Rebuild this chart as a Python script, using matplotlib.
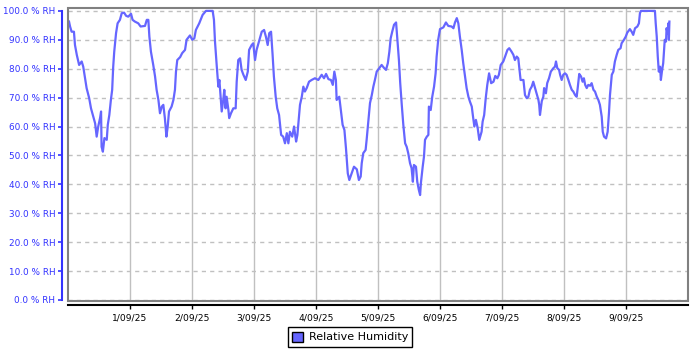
import datetime as dt
import matplotlib
matplotlib.use("Agg")
import matplotlib.pyplot as plt
import matplotlib.dates as mdates
from matplotlib.patches import Rectangle, Patch
from matplotlib.ticker import FuncFormatter

# hours since 31/08/2025 00:00 and relative humidity (%)
hours = [0.4, 0.8, 1.4, 2.3, 2.7, 3.4, 4.3, 5.3, 5.9, 6.6, 7.2, 8.2, 8.9, 9.8, 10.5, 11.1,
         11.7, 12.4, 12.8, 13.0, 13.5, 14.1, 15.0, 15.4, 16.0, 16.6, 17.1, 17.5, 17.9, 18.6,
         19.2, 20.1, 20.8, 21.7, 22.5, 23.3, 24.4, 25.0, 25.9, 27.2, 28.1, 29.8, 30.5, 31.1,
         31.5, 32.1, 33.0, 33.7, 34.3, 35.0, 35.6, 36.3, 36.9, 37.5, 38.1, 38.6, 39.1, 40.1,
         40.8, 41.4, 41.8, 42.3, 43.4, 44.2, 45.3, 45.9, 47.2, 48.1, 48.9, 49.5, 50.8, 52.1,
         53.4, 56.0, 56.5, 56.9, 57.6, 58.2, 58.6, 59.1, 59.5, 60.1, 60.5, 61.0, 61.4, 62.1,
         62.4, 63.1, 64.0, 64.9, 65.3, 65.9, 66.6, 67.2, 67.9, 68.8, 69.6, 70.1, 71.1, 71.7,
         72.4, 73.0, 74.1, 75.0, 75.9, 76.6, 77.3, 77.9, 78.6, 79.2, 79.7, 80.4, 81.0, 81.7,
         82.1, 82.5, 83.3, 84.0, 84.7, 85.3, 85.9, 86.8, 87.5, 88.3, 88.8, 89.4, 89.8, 90.5,
         91.1, 91.7, 92.4, 93.3, 94.3, 95.6, 96.9, 98.2, 99.1, 99.9, 100.8, 101.8, 102.5,
         103.1, 103.7, 104.0, 105.0, 105.6, 106.3, 107.0, 107.6, 108.3, 108.9, 109.8, 110.7,
         111.8, 112.6, 113.3, 113.7, 114.3, 115.2, 115.6, 116.2, 116.9, 117.6, 118.2, 118.8,
         119.5, 120.5, 121.4, 122.4, 123.1, 123.8, 124.4, 124.9, 125.5, 126.2, 127.0, 127.5,
         128.1, 128.6, 129.2, 129.8, 130.5, 131.1, 131.7, 132.4, 133.0, 133.5, 133.9, 134.7,
         135.2, 135.8, 136.3, 136.6, 137.3, 137.8, 138.2, 138.9, 139.5, 139.7, 140.4, 141.0,
         141.7, 142.3, 142.7, 143.3, 144.0, 145.3, 146.3, 147.2, 148.5, 149.2, 149.8, 150.5,
         151.1, 151.7, 152.4, 153.0, 153.7, 154.3, 155.0, 155.6, 156.3, 156.7, 157.3, 157.9,
         158.6, 159.2, 160.1, 160.5, 161.1, 161.7, 162.3, 163.0, 163.8, 164.7, 165.4, 166.2,
         166.8, 167.5, 168.5, 169.2, 170.1, 170.8, 171.7, 172.4, 173.0, 173.7, 174.3, 174.7,
         175.2, 176.3, 176.9, 177.6, 178.2, 178.8, 179.5, 180.1, 180.8, 181.4, 182.1, 182.4,
         182.7, 183.4, 184.0, 184.3, 185.0, 185.5, 186.2, 186.9, 187.9, 188.5, 188.9, 189.4,
         190.1, 190.5, 191.1, 191.7, 192.4, 193.0, 193.7, 194.3, 195.0, 195.6, 196.3, 196.9,
         197.3, 197.9, 198.6, 199.2, 199.7, 200.2, 200.8, 201.4, 202.1, 202.7, 203.4, 204.0,
         204.7, 205.3, 205.9, 206.6, 207.0, 207.5, 208.3, 208.9, 209.4, 209.8, 210.5, 211.1,
         211.7, 212.4, 213.0, 213.9, 214.3, 215.2, 215.9, 216.5, 217.5, 218.2, 218.8, 219.5,
         220.4, 221.0, 221.4, 221.8, 227.2, 227.5, 227.9, 228.3, 228.7, 229.2, 229.5, 229.9,
         230.4, 231.0, 231.5, 231.7, 232.1, 232.4, 232.6, 232.8]
rh = [96.3, 94.6, 92.8, 92.8, 88.2, 84.8, 81.3, 82.5, 80.7, 76.7, 73.3, 69.8, 66.3, 63.4, 61.1, 56.5,
      60.0, 62.9, 65.2, 53.0, 51.3, 56.0, 55.4, 60.6, 64.0, 69.2, 72.7, 80.7, 85.9, 92.3,
      95.7, 96.9, 99.2, 99.4, 98.3, 98.0, 99.0, 96.9, 96.3, 95.7, 94.6, 94.8, 96.9, 96.9,
      91.1, 85.9, 81.3, 77.3, 72.7, 69.2, 64.6, 66.9, 67.5, 62.9, 56.5, 60.0, 65.2, 66.9,
      69.2, 72.7, 79.0, 83.0, 84.0, 85.4, 86.5, 90.0, 91.5, 90.0, 90.5, 93.4, 95.7, 98.6,
      100.0, 100.0, 96.9, 89.4, 80.7, 73.8, 76.1, 70.3, 65.2, 69.2, 72.7, 66.3, 70.3, 65.7,
      62.9, 64.6, 66.3, 66.3, 75.5, 83.0, 83.6, 79.6, 77.9, 76.1, 79.0, 86.5, 88.2, 88.8,
      83.0, 86.5, 90.0, 92.8, 93.4, 91.1, 88.2, 92.3, 92.8, 84.8, 77.3, 70.3, 66.3, 64.0,
      60.6, 57.1, 56.5, 54.2, 57.7, 54.2, 58.2, 56.5, 60.0, 54.8, 57.1, 63.4, 67.5, 70.3,
      73.8, 72.1, 73.3, 75.5, 76.1, 76.7, 76.1, 77.9, 76.7, 78.2, 76.4, 76.1, 74.4,
      79.0, 76.1, 69.2, 70.3, 65.7, 60.6, 58.8, 52.5, 43.8, 41.5, 43.8, 46.1,
      45.2, 41.5, 42.7, 47.3, 50.8, 51.9, 55.4, 61.1, 68.1, 70.9, 73.8, 76.1,
      79.0, 80.2, 81.3, 80.2, 79.6, 81.9, 85.9, 90.5, 92.8, 95.2, 96.0, 90.0,
      83.0, 75.0, 67.5, 60.6, 54.2, 53.0, 50.8, 47.3, 45.6, 40.9, 46.7, 46.1,
      40.9, 38.1, 36.3, 40.4, 46.1, 49.6, 55.4, 56.5, 57.1, 66.9, 65.7, 70.3,
      73.8, 78.4, 84.2, 90.0, 93.7, 94.3, 96.0, 94.8, 94.6, 94.0, 96.0, 97.5,
      95.7, 91.1, 86.5, 81.9, 77.3, 73.3, 70.3, 68.6, 66.9, 64.0, 60.0, 62.3,
      59.4, 55.4, 58.2, 61.7, 64.0, 69.8, 74.4, 78.4, 75.0, 75.5, 77.5, 76.7,
      77.9, 81.3, 82.5, 84.2, 86.5, 87.1, 85.9, 84.8, 83.0, 84.2, 83.6, 80.2,
      76.1, 76.1, 70.9, 69.8, 70.3, 72.7, 73.8, 75.5, 73.3, 71.5, 69.2, 67.5,
      64.0, 68.8, 70.3, 73.3, 71.5, 75.0, 76.7, 79.0, 80.2, 80.7, 82.5, 80.2,
      79.6, 77.9, 76.1, 77.9, 78.4, 77.9, 76.1, 74.4, 72.7, 72.1, 70.9, 70.3,
      73.3, 78.2, 77.3, 75.5, 76.7, 74.4, 73.3, 74.4, 74.1, 75.0, 72.7, 72.1,
      70.3, 69.2, 67.5, 63.4, 58.2, 56.5, 55.9, 58.2, 64.6, 70.9, 77.9, 79.0,
      82.5, 84.8, 86.5, 87.1, 88.8, 90.0, 91.1, 92.5, 93.7, 92.8, 91.7, 94.0,
      94.6, 95.7, 99.2, 100.0, 100.0, 95.7, 91.1, 84.2, 79.0, 80.7, 76.1, 79.0,
      81.9, 90.0, 89.4, 94.0, 92.3, 95.7, 90.0, 96.3]
yticks = list(range(0, 101, 10))
start = dt.datetime(2025, 8, 31)
day_ticks = [start + dt.timedelta(days=d) for d in range(1, 10)]

times = [start + dt.timedelta(hours=h) for h in hours]

fig = plt.figure(figsize=(7, 3.5), dpi=100)
ax = fig.add_axes([68/700, 1 - 301/350, 620/700, 293/350])

ax.plot(times, rh, color='#6666ff', lw=1.6, zorder=3)

ax.set_xlim(start, start + dt.timedelta(days=10))
ax.set_ylim(-0.35, 101.0)

blue = '#3333ff'
ax.set_yticks(yticks)
ax.yaxis.set_major_formatter(FuncFormatter(lambda v, p: f"{v:.1f} % RH"))
ax.tick_params(axis='y', colors=blue, labelsize=6.4, length=3, width=1.2, pad=2)

ax.set_xticks(day_ticks)
ax.xaxis.set_major_formatter(FuncFormatter(
    lambda v, p: f"{mdates.num2date(v).day}/{mdates.num2date(v):%m/%y}"))
ax.tick_params(axis='x', colors='black', labelsize=6.6, length=3, width=1, pad=3)

ax.grid(axis='y', color='#c0c0c0', ls=(0, (3, 3)), lw=1)
ax.grid(axis='x', color='#c0c0c0', ls='-', lw=1)

for s in ['top', 'right']:
    ax.spines[s].set_visible(False)
ax.spines['left'].set_position(('outward', 4))
ax.spines['left'].set_color(blue)
ax.spines['left'].set_linewidth(1.5)
ax.spines['left'].set_bounds(0, 100)
ax.spines['bottom'].set_position(('outward', 3))
ax.spines['bottom'].set_color('black')
ax.spines['bottom'].set_linewidth(1.5)

ax.add_patch(Rectangle((0, 0), 1, 1, transform=ax.transAxes, fill=False,
                       edgecolor='#808080', lw=1.5, clip_on=False, zorder=4))

handle = Patch(facecolor='#6666ff', edgecolor='black', label='Relative Humidity')
leg = fig.legend(handles=[handle], loc='center', bbox_to_anchor=(350/700, 1 - 337/350),
                 fancybox=False, edgecolor='black', fontsize=8, handlelength=1.0,
                 handleheight=1.0, borderpad=0.4, handletextpad=0.5, framealpha=1)
leg.get_frame().set_linewidth(1)

fig.savefig('out.png', dpi=100)
